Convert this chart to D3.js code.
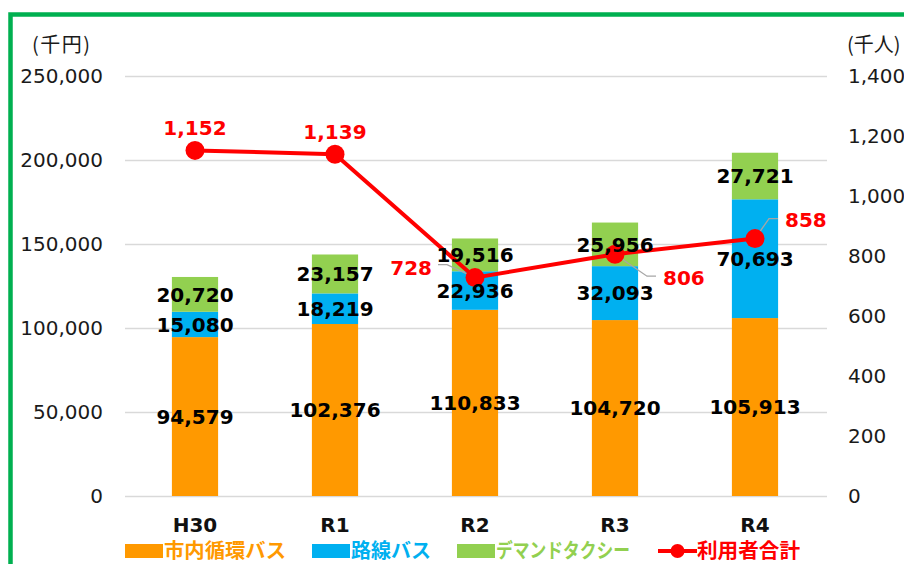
<!DOCTYPE html>
<html lang="ja">
<head>
<meta charset="utf-8">
<script src="https://cdn.jsdelivr.net/npm/d3@7"></script>
<style>
  html, body { margin: 0; padding: 0; background: #fff; }
  svg { display: block; }
</style>
</head>
<body>
<svg id="chart" width="904" height="564"></svg>
<script>
// Fiscal years
const years = ["H30", "R1", "R2", "R3", "R4"];
// Operating cost (千円) by service
const loopBus   = [94579, 102376, 110833, 104720, 105913];   // 市内循環バス
const routeBus  = [15080, 18219, 22936, 32093, 70693];       // 路線バス
const demandTaxi = [20720, 23157, 19516, 25956, 27721];      // デマンドタクシー
// Total riders (千人)
const riders = [1152, 1139, 728, 806, 858];                  // 利用者合計

const seriesNames = ["市内循環バス", "路線バス", "デマンドタクシー"];
const seriesColors = ["#FF9900", "#00B0F0", "#92D050"];
const lineName = "利用者合計";
const lineColor = "#FF0000";

const leftTicks = [0, 50000, 100000, 150000, 200000, 250000];
const rightTicks = [0, 200, 400, 600, 800, 1000, 1200, 1400];

// Where each rider label sits relative to its point
const riderLabelSide = ["above", "above", "left", "right-down", "right-up"];

const svg = d3.select("#chart");
const W = 904, H = 564;
const plot = { left: 125, right: 825, top: 76, bottom: 496 };

const numFont = '"DejaVu Sans", Verdana, sans-serif';
const jpFont = '"Noto Sans CJK JP", "Noto Sans", sans-serif';
const fmt = d3.format(",");

svg.append("rect").attr("width", W).attr("height", H).attr("fill", "#fff");

const x = d3.scaleBand().domain(years)
  .range([plot.left, plot.right])
  .paddingInner(0.67).paddingOuter(0.335);
const y = d3.scaleLinear().domain([0, 250000]).range([plot.bottom, plot.top]);
const y2 = d3.scaleLinear().domain([0, 1400]).range([plot.bottom, plot.top]);

// Gridlines from the left axis
const grid = svg.append("g")
  .attr("transform", `translate(${plot.left},0)`)
  .call(d3.axisLeft(y).tickValues(leftTicks).tickSize(-(plot.right - plot.left + 2)).tickFormat(""));
grid.select(".domain").remove();
grid.selectAll(".tick line").attr("stroke", "#d9d9d9").attr("stroke-width", 1.3);

// Left axis labels
const leftAxis = svg.append("g")
  .attr("transform", `translate(${plot.left - 22},0)`)
  .call(d3.axisLeft(y).tickValues(leftTicks).tickSize(0).tickPadding(0).tickFormat(fmt));
leftAxis.select(".domain").remove();
leftAxis.selectAll("text").attr("font-size", 20).attr("fill", "#1a1a1a")
  .attr("font-family", numFont);

// Right axis labels
const rightAxis = svg.append("g")
  .attr("transform", `translate(${plot.right + 23},0)`)
  .call(d3.axisRight(y2).tickValues(rightTicks).tickSize(0).tickPadding(0).tickFormat(fmt));
rightAxis.select(".domain").remove();
rightAxis.selectAll("text").attr("font-size", 20).attr("fill", "#1a1a1a")
  .attr("font-family", numFont);

// Category axis
const bottomAxis = svg.append("g")
  .attr("transform", `translate(0,${plot.bottom + 22})`)
  .call(d3.axisBottom(x).tickSize(0).tickPadding(0));
bottomAxis.select(".domain").remove();
bottomAxis.selectAll("text").attr("font-size", 20).attr("font-weight", "bold")
  .attr("fill", "#111").attr("font-family", numFont);

// Axis units
svg.append("text").attr("x", 32).attr("y", 52).text("(千円)")
  .attr("font-family", jpFont).attr("font-size", 20).attr("letter-spacing", 1.5).attr("fill", "#1a1a1a");
svg.append("text").attr("x", 847).attr("y", 52).text("(千人)")
  .attr("font-family", jpFont).attr("font-size", 20).attr("fill", "#1a1a1a");

// Stacked bars
const rows = years.map((yr, i) => ({ year: yr, s0: loopBus[i], s1: routeBus[i], s2: demandTaxi[i] }));
const stack = d3.stack().keys(["s0", "s1", "s2"])(rows);

const barLayer = svg.append("g");
stack.forEach((layer, li) => {
  barLayer.selectAll(null).data(layer).enter().append("rect")
    .attr("x", d => x(d.data.year))
    .attr("width", x.bandwidth())
    .attr("y", d => y(d[1]))
    .attr("height", d => y(d[0]) - y(d[1]))
    .attr("fill", seriesColors[li]);
});

// Rider line
const cx = i => x(years[i]) + x.bandwidth() / 2;
const line = d3.line().x((d, i) => cx(i)).y(d => y2(d));
svg.append("path").datum(riders).attr("d", line)
  .attr("fill", "none").attr("stroke", lineColor).attr("stroke-width", 4)
  .attr("stroke-linejoin", "round");

// Leader lines for side-placed labels, then markers
const leaderLayer = svg.append("g");
svg.selectAll(".marker").data(riders).enter().append("circle")
  .attr("cx", (d, i) => cx(i)).attr("cy", d => y2(d)).attr("r", 9.5)
  .attr("fill", lineColor);

// Segment value labels
const labelLayer = svg.append("g");
stack.forEach(layer => {
  labelLayer.selectAll(null).data(layer).enter().append("text")
    .attr("x", d => x(d.data.year) + x.bandwidth() / 2)
    .attr("y", d => (y(d[0]) + y(d[1])) / 2)
    .attr("dy", "0.36em")
    .attr("text-anchor", "middle")
    .attr("font-family", numFont).attr("font-size", 20).attr("font-weight", "bold")
    .attr("fill", "#000")
    .text(d => fmt(d[1] - d[0]));
});

// Rider labels
riders.forEach((v, i) => {
  const px = cx(i), py = y2(v);
  const side = riderLabelSide[i];
  let tx = px, ty = py, anchor = "middle", leader = null;
  if (side === "above") { ty = py - 23; }
  else if (side === "left") {
    tx = px - 43; ty = py - 10; anchor = "end";
    leader = [[tx + 6, ty - 3], [tx + 15, ty - 3], [px, py]];
  } else if (side === "right-down") {
    tx = px + 48; ty = py + 24; anchor = "start";
    leader = [[px, py], [px + 32, ty - 2], [px + 41, ty - 2]];
  } else if (side === "right-up") {
    tx = px + 30; ty = py - 19; anchor = "start";
    leader = [[px, py], [px + 14, ty - 1], [px + 23, ty - 1]];
  }
  if (leader) {
    leaderLayer.append("path").attr("d", d3.line()(leader))
      .attr("fill", "none").attr("stroke", "#a6a6a6").attr("stroke-width", 1.3);
  }
  labelLayer.append("text")
    .attr("x", tx).attr("y", ty).attr("dy", "0.36em")
    .attr("text-anchor", anchor)
    .attr("font-family", numFont).attr("font-size", 20).attr("font-weight", "bold")
    .attr("fill", lineColor)
    .text(fmt(v));
});

// Legend
const legendY = 551;
const legendItems = [
  { name: seriesNames[0], color: seriesColors[0], x: 125, width: 122, type: "box" },
  { name: seriesNames[1], color: seriesColors[1], x: 312, width: 80, type: "box" },
  { name: seriesNames[2], color: seriesColors[2], x: 457, width: 134, type: "box" },
  { name: lineName, color: lineColor, x: 658, width: 103, type: "line" }
];
const legend = svg.append("g");
legendItems.forEach(it => {
  if (it.type === "box") {
    legend.append("rect").attr("x", it.x).attr("y", legendY - 7)
      .attr("width", 38).attr("height", 14).attr("fill", it.color);
  } else {
    legend.append("line").attr("x1", it.x).attr("x2", it.x + 39)
      .attr("y1", legendY).attr("y2", legendY)
      .attr("stroke", it.color).attr("stroke-width", 4);
    legend.append("circle").attr("cx", it.x + 19.5).attr("cy", legendY).attr("r", 7)
      .attr("fill", it.color);
  }
  legend.append("text")
    .attr("x", it.x + 39).attr("y", legendY).attr("dy", "0.36em")
    .attr("textLength", it.width).attr("lengthAdjust", "spacingAndGlyphs")
    .attr("font-family", jpFont).attr("font-size", 20).attr("font-weight", "bold")
    .attr("fill", it.color).text(it.name);
});

// Frame
svg.append("rect").attr("x", 10.5).attr("y", 14.5).attr("width", 1000).attr("height", 1000)
  .attr("fill", "none").attr("stroke", "#00B050").attr("stroke-width", 4.5);
</script>
</body>
</html>
